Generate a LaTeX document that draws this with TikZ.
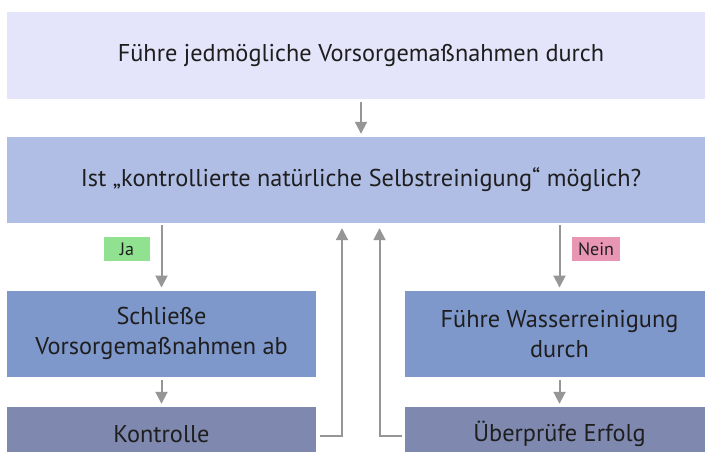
\documentclass[tikz,border=0pt]{standalone}
\usepackage{fontspec}
\setmainfont{PT Sans}
\usetikzlibrary{arrows.meta}
\definecolor{topfill}{RGB}{228,228,250}
\definecolor{askfill}{RGB}{176,190,230}
\definecolor{stepfill}{RGB}{127,152,204}
\definecolor{endfill}{RGB}{127,137,176}
\definecolor{arrowgray}{RGB}{150,150,150}
\definecolor{yesfill}{RGB}{144,226,144}
\definecolor{nofill}{RGB}{232,150,180}
\definecolor{ink}{RGB}{30,30,30}
\tikzset{
  box/.style={rectangle, inner sep=0pt, align=center, text=ink,
    font=\fontsize{24.3}{30}\selectfont},
  widebox/.style={box, minimum width=708pt, minimum height=87pt},
  halfbox/.style={box, minimum width=309pt, minimum height=86pt},
  endbox/.style={box, minimum width=309pt, minimum height=54pt, fill=endfill},
  tag/.style={rectangle, inner sep=0pt, minimum height=24pt, text=ink,
    font=\fontsize{18}{20}\selectfont},
  flow/.style={draw=arrowgray, line width=2pt,
    -{Triangle[width=12pt,length=12pt]}},
}
\begin{document}
\begin{tikzpicture}[x=1pt, y=-1pt]
  \useasboundingbox (0,0) rectangle (705,452);
  \clip (0,0) rectangle (705,452);
  \fill[white] (0,0) rectangle (705,452);

  % boxes
  \node[widebox, fill=topfill] (top) at (361,55.5)
    {Führe jedmögliche Vorsorgemaßnahmen durch};
  \node[widebox, fill=askfill, minimum height=86pt] (ask) at (361,180)
    {Ist „kontrollierte natürliche Selbstreinigung“ möglich?};
  \node[halfbox, fill=stepfill] (yes) at (161.5,333.7)
    {Schließe\\Vorsorgemaßnahmen ab};
  \node[halfbox, fill=stepfill] (no) at (559.5,333.7)
    {Führe Wasserreinigung\\durch};
  \node[endbox] (ctrl) at (161.5,434) {Kontrolle};
  \node[endbox] (chk) at (559.5,434) {Überprüfe Erfolg};

  % branch labels
  \node[tag, fill=yesfill, minimum width=46pt] (ja) at (127,249) {Ja};
  \node[tag, fill=nofill, minimum width=48pt] (nein) at (596,249) {Nein};

  % helper columns for the return lines
  \coordinate (backL) at (342,0);
  \coordinate (backR) at (379.5,0);

  % connectors
  \draw[flow, shorten <=3pt, shorten >=3pt] (top) -- (ask);
  \draw[flow, shorten <=2pt, shorten >=3pt] (ask.south -| yes) -- (yes);
  \draw[flow, shorten <=2pt, shorten >=3pt] (ask.south -| no) -- (no);
  \draw[flow, shorten <=3pt, shorten >=3pt] (yes) -- (ctrl);
  \draw[flow, shorten <=3pt, shorten >=3pt] (no) -- (chk);
  \draw[flow, shorten <=4pt, shorten >=5pt] ([yshift=-2pt]ctrl.east) -| (ask.south -| backL);
  \draw[flow, shorten <=3pt, shorten >=5pt] ([yshift=-2pt]chk.west) -| (ask.south -| backR);
\end{tikzpicture}
\end{document}
